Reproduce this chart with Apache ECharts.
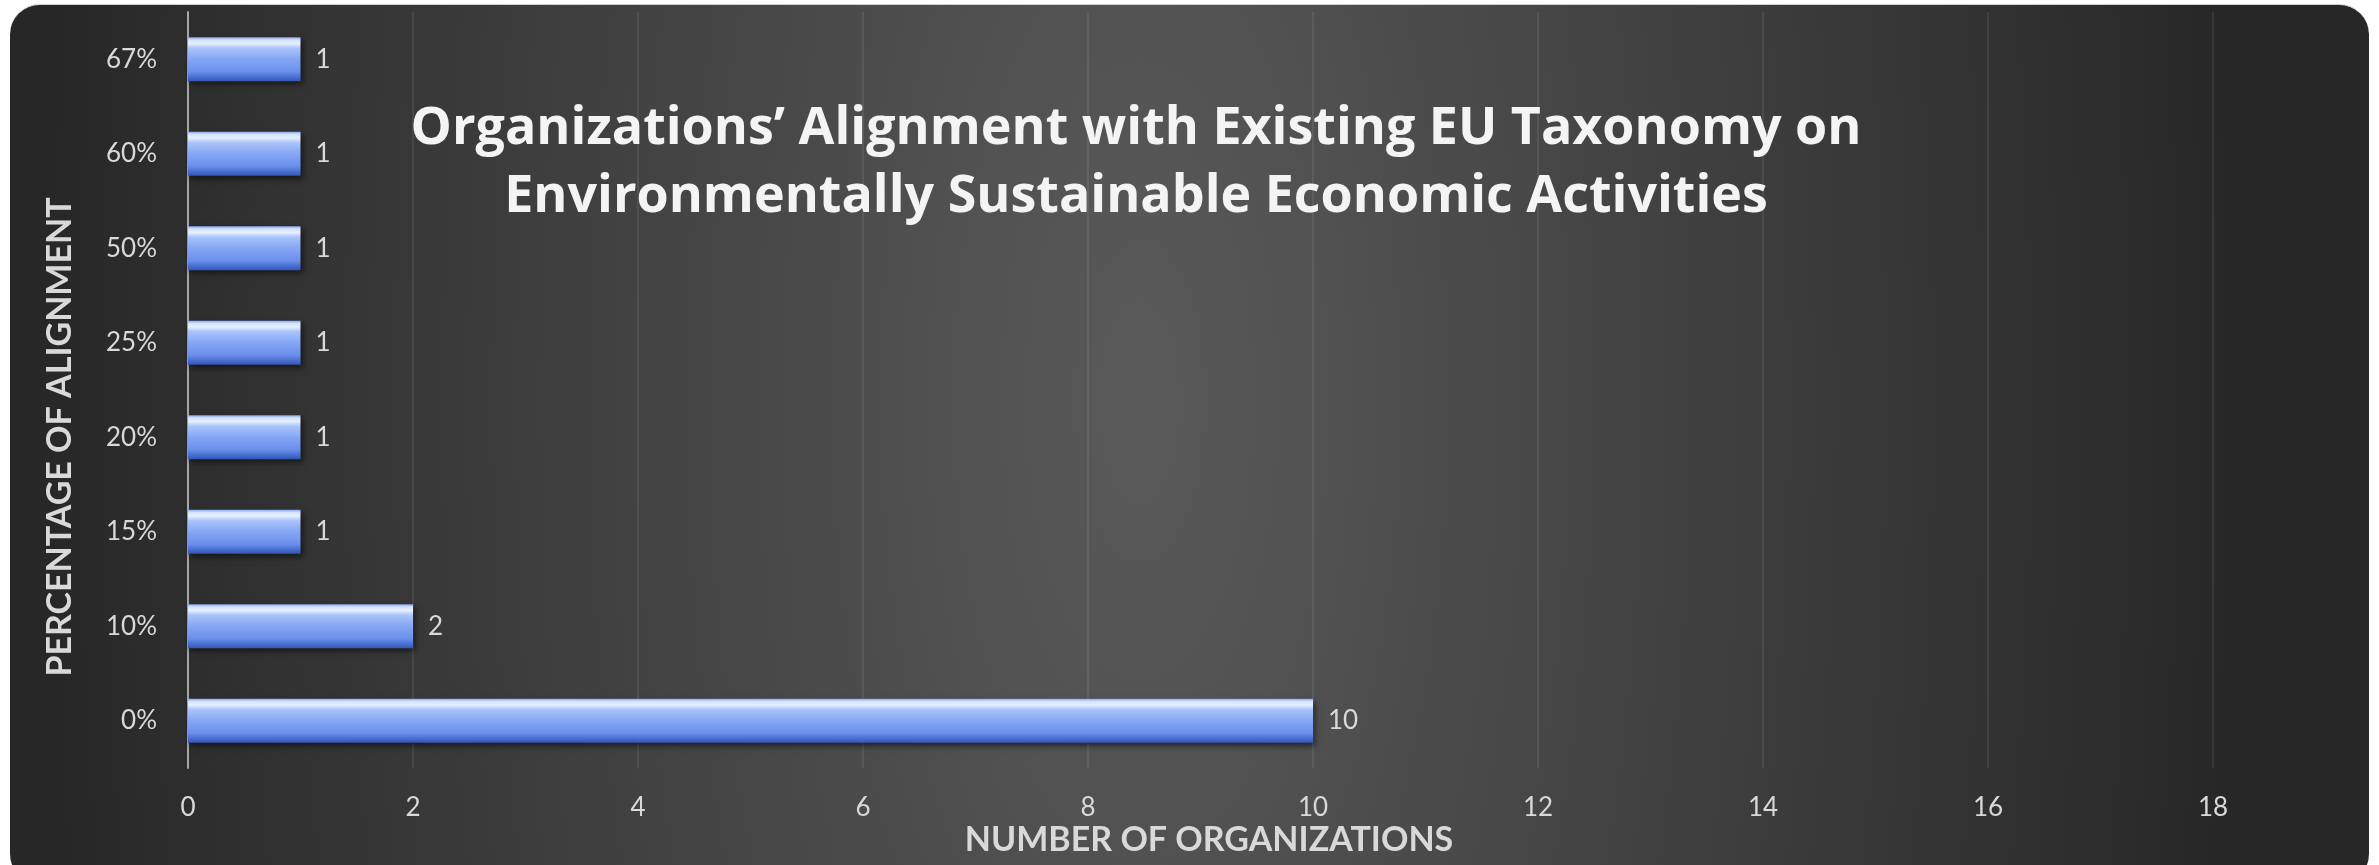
<!DOCTYPE html>
<html>
<head>
<meta charset="utf-8">
<script src="https://cdn.jsdelivr.net/npm/echarts@6/dist/echarts.min.js"></script>
<style>
  html, body { margin: 0; padding: 0; background: #ffffff; width: 2379px; height: 865px; overflow: hidden; }
  #panel {
    position: absolute; left: 10px; top: 4px; width: 2359px; height: 880px;
    border-radius: 30px;
    border-top: 1px solid #cfcfcf;
    box-sizing: border-box;
    background: radial-gradient(ellipse 1100px 2700px at 1130px 396px, #5a5a5a 0%, #272727 100%);
  }
  #chart { position: absolute; left: 0; top: 0; width: 2379px; height: 865px; }
</style>
</head>
<body>
<div id="panel"></div>
<div id="chart"></div>
<script>
// Share of activities aligned with the EU Taxonomy, and how many organizations reported each share
const alignmentLevels = ['0%', '10%', '15%', '20%', '25%', '50%', '60%', '67%'];
const organizationCounts = [10, 2, 1, 1, 1, 1, 1, 1];
const countTicks = { min: 0, max: 18, interval: 2 };

const titleLines = [
  'Organizations\u2019 Alignment with Existing EU Taxonomy on',
  'Environmentally Sustainable Economic Activities'
];
const xAxisTitle = 'NUMBER OF ORGANIZATIONS';
const yAxisTitle = 'PERCENTAGE OF ALIGNMENT';

const FONT = 'Lato, "Open Sans", sans-serif';
const TITLE_FONT = '"Open Sans", Lato, sans-serif';
const labelColor = '#d9d9d9';

const chart = echarts.init(document.getElementById('chart'), null, { renderer: 'canvas' });

// glossy bevelled blue fill for the bars
const barFill = new echarts.graphic.LinearGradient(0, 0, 0, 1, [
  { offset: 0.00, color: '#86a6f2' },
  { offset: 0.06, color: '#d3e2ff' },
  { offset: 0.14, color: '#e6f0ff' },
  { offset: 0.25, color: '#a9c3fb' },
  { offset: 0.50, color: '#85a6f4' },
  { offset: 0.78, color: '#6b90ec' },
  { offset: 0.89, color: '#4c72d5' },
  { offset: 1.00, color: '#3456b6' }
]);

const titleStyle = {
  fill: '#f4f4f4', font: 'bold 52px ' + TITLE_FONT,
  textAlign: 'center', textVerticalAlign: 'middle',
  shadowColor: 'rgba(0,0,0,0.7)', shadowBlur: 5, shadowOffsetX: 2, shadowOffsetY: 2
};

chart.setOption({
  backgroundColor: 'transparent',
  animation: false,
  grid: { left: 188, right: 166, top: 12, bottom: 97, containLabel: false },
  xAxis: {
    type: 'value',
    min: countTicks.min,
    max: countTicks.max,
    interval: countTicks.interval,
    axisLine: { show: false },
    axisTick: { show: false },
    axisLabel: { color: labelColor, fontFamily: FONT, fontSize: 26, margin: 27 },
    splitLine: { show: true, lineStyle: { color: 'rgba(255,255,255,0.08)', width: 2 } }
  },
  yAxis: {
    type: 'category',
    data: alignmentLevels,
    axisLine: { show: true, lineStyle: { color: '#a6a6a6', width: 2 } },
    axisTick: { show: false },
    axisLabel: { color: labelColor, fontFamily: FONT, fontSize: 26, margin: 31 },
    splitLine: { show: false }
  },
  series: [{
    type: 'bar',
    data: organizationCounts,
    barWidth: 44,
    itemStyle: {
      color: barFill,
      shadowColor: 'rgba(0,0,0,0.55)',
      shadowBlur: 6,
      shadowOffsetX: 2,
      shadowOffsetY: 3
    },
    label: {
      show: true,
      position: 'right',
      distance: 15,
      color: labelColor,
      fontFamily: FONT,
      fontSize: 26
    }
  }],
  graphic: [
    { type: 'text', x: 1136, y: 129, z: 10, style: Object.assign({ text: titleLines[0] }, titleStyle) },
    { type: 'text', x: 1136, y: 197, z: 10, style: Object.assign({ text: titleLines[1] }, titleStyle) },
    {
      type: 'text', x: 1209, y: 840, z: 10,
      style: {
        text: xAxisTitle, fill: labelColor, font: 'bold 34px ' + FONT,
        textAlign: 'center', textVerticalAlign: 'middle'
      }
    },
    {
      type: 'text', x: 60, y: 437, rotation: Math.PI / 2, z: 10,
      style: {
        text: yAxisTitle, fill: labelColor, font: 'bold 34px ' + FONT,
        textAlign: 'center', textVerticalAlign: 'middle'
      }
    }
  ]
});
</script>
</body>
</html>
